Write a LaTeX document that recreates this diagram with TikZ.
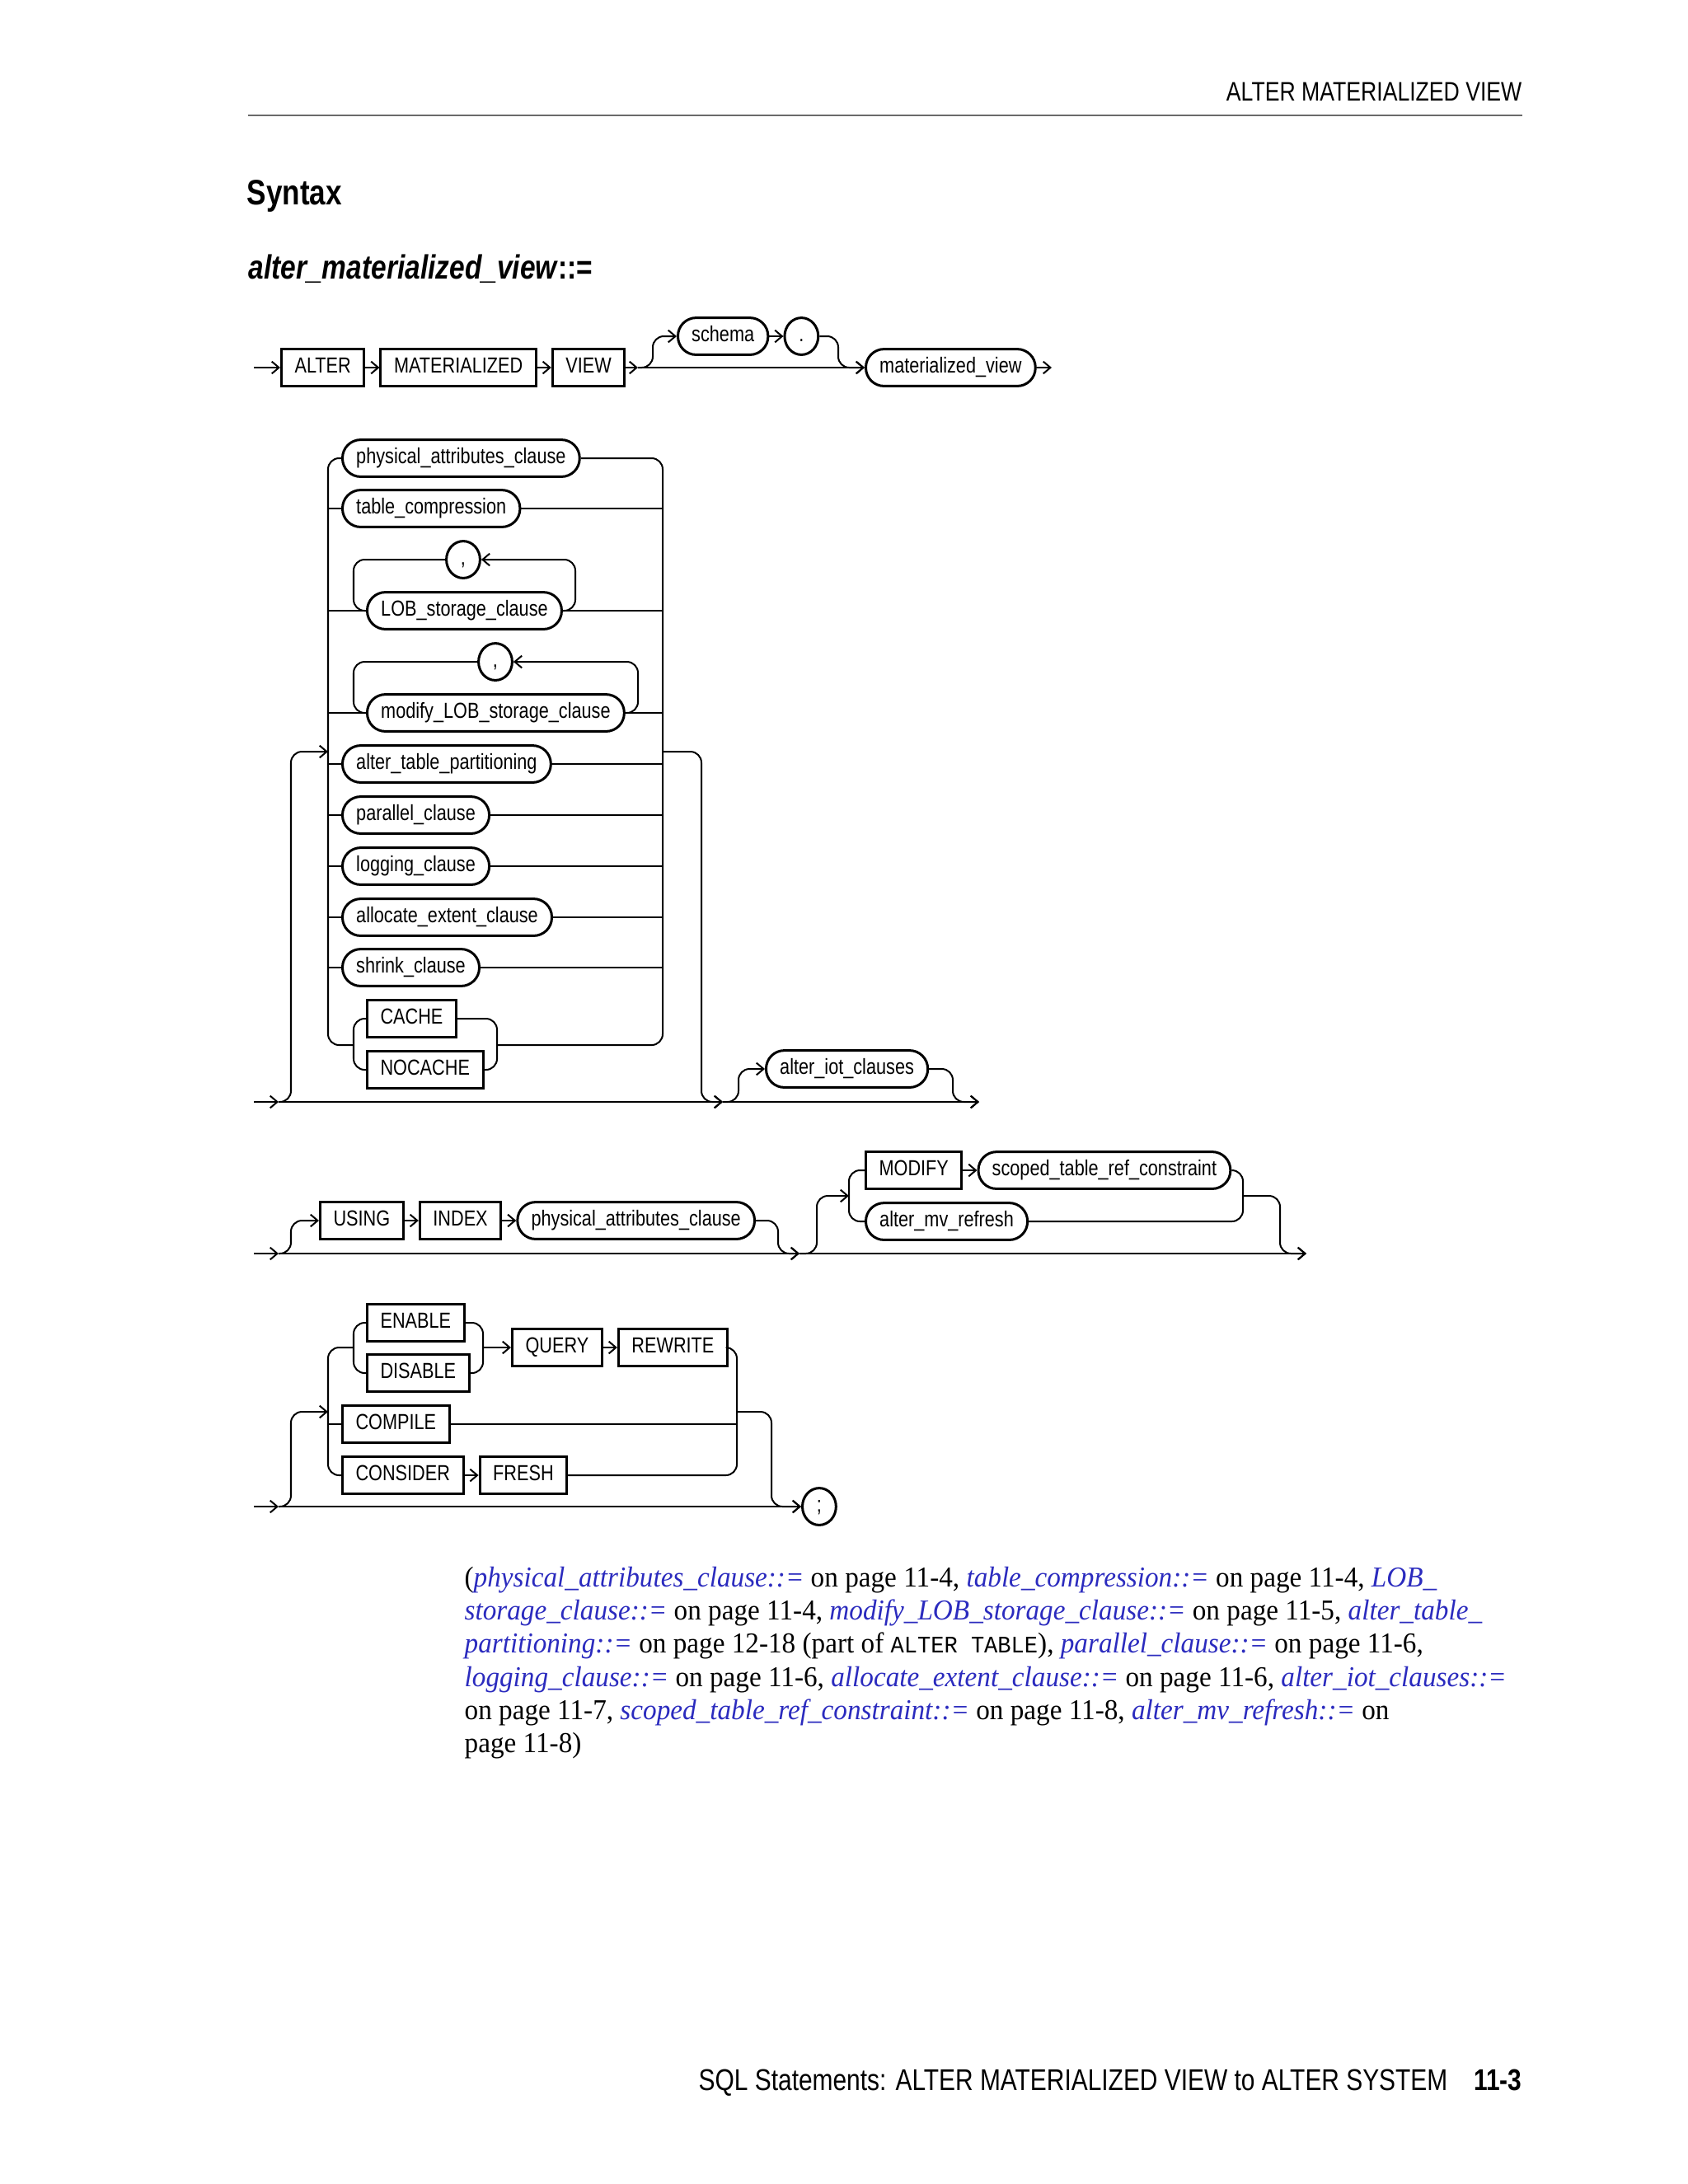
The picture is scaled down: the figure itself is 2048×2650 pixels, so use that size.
\documentclass[tikz,border=0pt]{standalone}
\usepackage{fontspec}
\setmainfont[FakeStretch=0.95]{Liberation Serif}
\setsansfont[FakeStretch=0.82]{Liberation Sans}
\setmonofont[FakeStretch=0.94]{Liberation Mono}
\usepackage{tikz}
\usetikzlibrary{arrows.meta,positioning,shapes.geometric}
\usepackage{xcolor}
\definecolor{linkblue}{HTML}{2B2BBE}
\definecolor{rulegray}{HTML}{6A6A6A}
\newcommand\xlink[1]{\textcolor{linkblue}{\textit{#1}}}
\tikzset{
  kw/.style={draw,line width=0.9pt,rectangle,minimum height=13.4pt,inner xsep=4.8pt,inner ysep=0pt,
    text height=5.7pt,text depth=1.6pt,font=\sffamily\fontsize{7.9}{9}\selectfont},
  ref/.style={kw,rounded corners=6.6pt,inner xsep=5pt},
  tok/.style={draw,line width=0.9pt,ellipse,minimum width=12.2pt,minimum height=13.4pt,inner sep=0pt,
    text height=5.7pt,text depth=1.6pt,font=\sffamily\fontsize{7.9}{9}\selectfont},
  rail/.style={draw=black,line width=0.6pt},
  railbend/.style={rail,rounded corners=4pt},
  railarrow/.style={-{Straight Barb[length=2.6pt,width=4.4pt]}},
  bodyline/.style={anchor=base west,inner sep=0pt,font=\fontsize{10.45}{12}\selectfont}
}

\begin{document}
\begin{tikzpicture}[x=0.298828pt,y=-0.298828pt,node distance=5.1pt]
\useasboundingbox (0,0) rectangle (2048,2650);

\node[anchor=base east,inner sep=0pt,font=\sffamily\fontsize{9.7}{11}\selectfont] (runhead) at (1847,122) {ALTER MATERIALIZED VIEW};
\coordinate (hr1) at (301,140);
\coordinate (hr2) at (1847,140);
\draw[rulegray,line width=0.7pt] (hr1) -- (hr2);
\node[anchor=base west,inner sep=0pt,font=\sffamily\bfseries\fontsize{12.8}{14}\selectfont] (syntax) at (299,248) {Syntax};
\node[anchor=base west,inner sep=0pt,font=\sffamily\bfseries\fontsize{12.2}{14}\selectfont] (rulename) at (301,338) {\textit{alter\_materialized\_view}::=};

\node[kw,anchor=west] (alter) at (340,446) {ALTER};
\node[kw,right=of alter] (mat) {MATERIALIZED};
\node[kw,right=of mat] (view) {VIEW};
\node[ref,anchor=west] (schema) at (821,408) {schema};
\node[tok,right=of schema] (dot) {.};
\node[ref,anchor=west] (mview) at (1049,446) {materialized\_view};
\coordinate (in1) at (308,446);
\coordinate (f1) at (774,446);
\coordinate (f1up) at (792,408);
\coordinate (m1) at (1017,446);
\coordinate (out1) at (1276,446);
\draw[rail,railarrow] (in1) -- (alter);
\draw[rail,railarrow] (alter) -- (mat);
\draw[rail,railarrow] (mat) -- (view);
\draw[rail,railarrow] (view) -- (f1);
\draw[rail,railarrow] (f1) -- (mview);
\draw[railbend,railarrow] (f1) -| (f1up) -- (schema);
\draw[rail,railarrow] (schema) -- (dot);
\draw[railbend,railarrow] (dot) -| (m1) -- (mview);
\draw[rail,railarrow] (mview) -- (out1);

\node[ref,anchor=west] (pac) at (414,556) {physical\_attributes\_clause};
\node[ref,anchor=west] (tc) at (414,617) {table\_compression};
\node[tok] (c1) at (562,679) {,};
\node[ref,anchor=west] (lob) at (444,741) {LOB\_storage\_clause};
\node[tok] (c2) at (601,803) {,};
\node[ref,anchor=west] (mlob) at (444,865) {modify\_LOB\_storage\_clause};
\node[ref,anchor=west] (atp) at (414,927) {alter\_table\_partitioning};
\node[ref,anchor=west] (par) at (414,989) {parallel\_clause};
\node[ref,anchor=west] (logc) at (414,1051) {logging\_clause};
\node[ref,anchor=west] (aec) at (414,1113) {allocate\_extent\_clause};
\node[ref,anchor=west] (shr) at (414,1174) {shrink\_clause};
\node[kw,anchor=west] (cache) at (444,1236) {CACHE};
\node[kw,anchor=west] (nocache) at (444,1298) {NOCACHE};
\node[ref,anchor=west] (iot) at (928,1297) {alter\_iot\_clauses};
\coordinate (lrail) at (398,0);
\coordinate (rrail) at (804,0);
\coordinate (bl2) at (398,1268);
\coordinate (br2) at (804,1268);
\coordinate (cl2) at (429,1268);
\coordinate (cr2) at (603,1268);
\coordinate (lp1) at (698,679);
\coordinate (lp2) at (429,741);
\coordinate (lp3) at (774,803);
\coordinate (lp4) at (429,865);
\coordinate (in2) at (308,1337);
\coordinate (f2) at (338,1337);
\coordinate (f2up) at (353,912);
\coordinate (e2) at (398,912);
\coordinate (x2) at (804,912);
\coordinate (x2dn) at (851,1337);
\coordinate (f3) at (877,1337);
\coordinate (f3up) at (896,1297);
\coordinate (m3) at (1156,1337);
\coordinate (out2) at (1188,1337);
\draw[railbend] (pac) -| (bl2) -- (cl2);
\draw[railbend] (pac) -| (br2) -- (cr2);
\draw[rail] (tc.west -| lrail) -- (tc) (tc) -- (tc.east -| rrail);
\draw[rail] (lob.west -| lrail) -- (lob) (lob) -- (lob.east -| rrail);
\draw[railbend,railarrow] (lob.east) -| (lp1) -- (c1);
\draw[railbend] (c1) -| (lp2) -- (lob);
\draw[rail] (mlob.west -| lrail) -- (mlob) (mlob) -- (mlob.east -| rrail);
\draw[railbend,railarrow] (mlob.east) -| (lp3) -- (c2);
\draw[railbend] (c2) -| (lp4) -- (mlob);
\draw[rail] (atp.west -| lrail) -- (atp) (atp) -- (atp.east -| rrail);
\draw[rail] (par.west -| lrail) -- (par) (par) -- (par.east -| rrail);
\draw[rail] (logc.west -| lrail) -- (logc) (logc) -- (logc.east -| rrail);
\draw[rail] (aec.west -| lrail) -- (aec) (aec) -- (aec.east -| rrail);
\draw[rail] (shr.west -| lrail) -- (shr) (shr) -- (shr.east -| rrail);
\draw[railbend] (cache) -| (cl2) |- (nocache);
\draw[railbend] (cache) -| (cr2) |- (nocache);
\draw[rail,railarrow] (in2) -- (f2);
\draw[rail,railarrow] (f2) -- (f3);
\draw[railbend,railarrow] (f2) -| (f2up) -- (e2);
\draw[railbend,railarrow] (x2) -| (x2dn) -- (f3);
\draw[railbend,railarrow] (f3) -| (f3up) -- (iot);
\draw[railbend,railarrow] (iot) -| (m3) -- (out2);
\draw[rail,railarrow] (f3) -- (out2);

\node[kw,anchor=west] (using) at (387,1481) {USING};
\node[kw,right=of using] (index) {INDEX};
\node[ref,right=of index] (pac2) {physical\_attributes\_clause};
\node[kw,anchor=west] (modify) at (1049,1420) {MODIFY};
\node[ref,right=of modify] (strc) {scoped\_table\_ref\_constraint};
\node[ref,anchor=west] (mvr) at (1049,1482) {alter\_mv\_refresh};
\coordinate (in3) at (308,1521);
\coordinate (f4) at (338,1521);
\coordinate (f4up) at (353,1481);
\coordinate (m4) at (944,1521);
\coordinate (f5) at (970,1521);
\coordinate (f5up) at (991,1451);
\coordinate (cl3) at (1030,1451);
\coordinate (cr3) at (1508,1451);
\coordinate (m5) at (1553,1521);
\coordinate (out3) at (1585,1521);
\draw[rail,railarrow] (in3) -- (f4);
\draw[rail,railarrow] (f4) -- (f5);
\draw[rail,railarrow] (f5) -- (out3);
\draw[railbend,railarrow] (f4) -| (f4up) -- (using);
\draw[rail,railarrow] (using) -- (index);
\draw[rail,railarrow] (index) -- (pac2);
\draw[railbend,railarrow] (pac2) -| (m4) -- (f5);
\draw[railbend,railarrow] (f5) -| (f5up) -- (cl3);
\draw[railbend] (modify) -| (cl3) |- (mvr);
\draw[rail,railarrow] (modify) -- (strc);
\draw[railbend] (strc) -| (cr3) |- (mvr);
\draw[railbend,railarrow] (cr3) -| (m5) -- (out3);

\node[kw,anchor=west] (enable) at (444,1605) {ENABLE};
\node[kw,anchor=west] (disable) at (444,1666) {DISABLE};
\node[kw,anchor=west] (query) at (620,1635) {QUERY};
\node[kw,right=of query] (rewrite) {REWRITE};
\node[kw,anchor=west] (compile) at (414,1728) {COMPILE};
\node[kw,anchor=west] (consider) at (414,1790) {CONSIDER};
\node[kw,right=of consider] (fresh) {FRESH};
\node[tok,anchor=west] (semi) at (972,1828) {;};
\coordinate (in4) at (308,1828);
\coordinate (f6) at (338,1828);
\coordinate (f6up) at (353,1713);
\coordinate (e6) at (398,1713);
\coordinate (bl4) at (429,1635);
\coordinate (br4) at (586,1635);
\coordinate (lb4) at (398,1790);
\coordinate (rb4) at (894,1790);
\coordinate (rrail4) at (894,0);
\coordinate (x6) at (894,1713);
\coordinate (x6dn) at (936,1828);
\draw[rail,railarrow] (in4) -- (f6);
\draw[rail,railarrow] (f6) -- (semi);
\draw[railbend,railarrow] (f6) -| (f6up) -- (e6);
\draw[railbend] (enable) -| (bl4) |- (disable);
\draw[railbend] (enable) -| (br4) |- (disable);
\draw[railbend] (bl4) -| (lb4) -- (consider);
\draw[rail,railarrow] (br4) -- (query);
\draw[rail,railarrow] (query) -- (rewrite);
\draw[railbend] (rewrite) -| (rb4) -- (fresh);
\draw[rail] (compile.west -| lrail) -- (compile) (compile) -- (compile.east -| rrail4);
\draw[rail,railarrow] (consider) -- (fresh);
\draw[railbend,railarrow] (x6) -| (x6dn) -- (semi);

\node[bodyline] (xref1) at (563,1925) {(\xlink{physical\_attributes\_clause::=} on page 11-4, \xlink{table\_compression::=} on page 11-4, \xlink{LOB\_}};
\node[bodyline] (xref2) at (563,1965) {\xlink{storage\_clause::=} on page 11-4, \xlink{modify\_LOB\_storage\_clause::=} on page 11-5, \xlink{alter\_table\_}};
\node[bodyline] (xref3) at (563,2005) {\xlink{partitioning::=} on page 12-18 (part of {\ttfamily\fontsize{8.6}{12}\selectfont ALTER TABLE}), \xlink{parallel\_clause::=} on page 11-6,};
\node[bodyline] (xref4) at (563,2046) {\xlink{logging\_clause::=} on page 11-6, \xlink{allocate\_extent\_clause::=} on page 11-6, \xlink{alter\_iot\_clauses::=}};
\node[bodyline] (xref5) at (563,2086) {on page 11-7, \xlink{scoped\_table\_ref\_constraint::=} on page 11-8, \xlink{alter\_mv\_refresh::=} on};
\node[bodyline] (xref6) at (563,2126) {page 11-8)};

\node[anchor=base east,inner sep=0pt,font=\sffamily\fontsize{10.9}{12}\selectfont] (foot) at (1757,2536) {SQL Statements: ALTER MATERIALIZED VIEW to ALTER SYSTEM};
\node[anchor=base east,inner sep=0pt,font=\sffamily\bfseries\fontsize{10.9}{12}\selectfont] (pageno) at (1847,2536) {11-3};
\end{tikzpicture}
\end{document}
